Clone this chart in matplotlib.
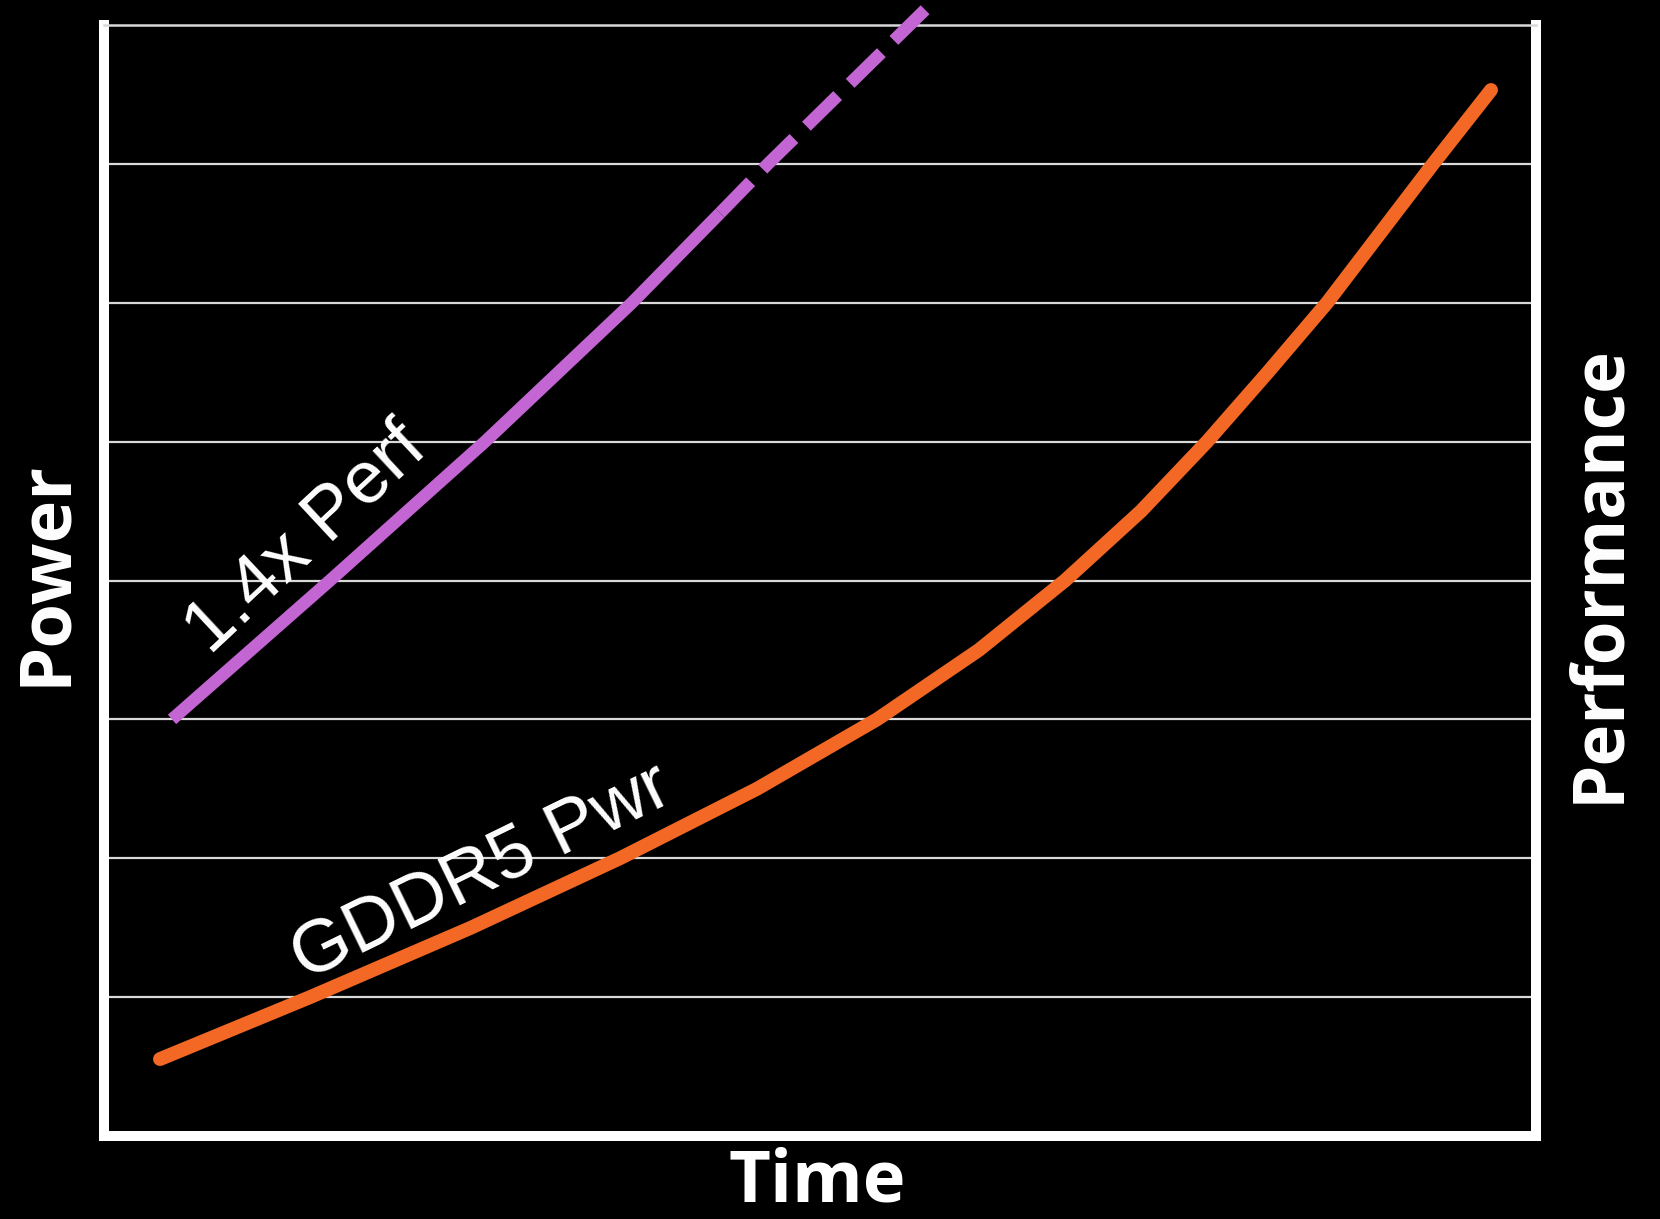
import matplotlib
matplotlib.use("Agg")
import matplotlib.pyplot as plt

# values (x: time 0-100, y: grid rows 0-8)
pwr_x = [3.91, 14.39, 25.63, 36.03, 45.60, 53.98, 61.10, 67.11, 72.42, 77.03,
         81.28, 85.41, 89.11, 92.81, 96.86]
pwr_y = [0.554, 1.0, 1.5, 2.0, 2.5, 3.0, 3.5, 4.0, 4.5, 5.0,
         5.5, 6.0, 6.5, 7.0, 7.532]

perf_x = [4.75, 15.78, 26.61, 36.87, 43.02, 46.37, 57.54]
perf_y = [3.0, 4.0, 5.0, 6.0, 6.646, 7.0, 8.13]
perf_solid_n = 5  # points drawn solid, the rest dashed (projection)

grid_rows = [1, 2, 3, 4, 5, 6, 7]

pwr_label = "GDDR5 Pwr"
perf_label = "1.4x Perf"

orange = "#F26824"
purple = "#C366D3"

fig = plt.figure(figsize=(16.6, 12.19), dpi=100, facecolor="black")
ax = fig.add_axes([104 / 1660, 1 - 1136 / 1219, 1432 / 1660, 1111 / 1219], facecolor="black")
ax.set_xlim(0, 100)
ax.set_ylim(0, 8)

for r in grid_rows:
    ax.axhline(r, color="#d9d9d9", lw=1.6, zorder=1)

ax.plot(pwr_x, pwr_y, color=orange, lw=10, solid_capstyle="round",
        solid_joinstyle="round", zorder=3)
ax.plot(perf_x[:perf_solid_n], perf_y[:perf_solid_n], color=purple, lw=9,
        solid_capstyle="butt", solid_joinstyle="round", zorder=3)
ax.plot(perf_x[perf_solid_n - 1:], perf_y[perf_solid_n - 1:], color=purple, lw=9,
        linestyle=(0, (3.5, 1.4)), dash_capstyle="butt", clip_on=False, zorder=3)

ax.text(14.1, 4.30, perf_label, rotation=43, rotation_mode="anchor",
        ha="center", va="center", color="white", fontsize=54,
        family="Liberation Sans", zorder=4)
ax.text(26.4, 1.90, pwr_label, rotation=26, rotation_mode="anchor",
        ha="center", va="center", color="white", fontsize=54,
        family="Liberation Sans", zorder=4)

ax.set_xticks([])
ax.set_yticks([])
for side in ["left", "right", "bottom"]:
    ax.spines[side].set_color("white")
    ax.spines[side].set_linewidth(7.2)
ax.spines["top"].set_color("#d9d9d9")
ax.spines["top"].set_linewidth(1.8)

fig.text(46 / 1660, 1 - 573 / 1219, "Power", rotation=90, ha="center", va="center",
         color="white", fontsize=52, fontweight="bold", family="Open Sans")
fig.text(1599 / 1660, 1 - 574 / 1219, "Performance", rotation=90, ha="center", va="center",
         color="white", fontsize=51, fontweight="bold", family="Open Sans")
fig.text(817 / 1660, 1 - 1183 / 1219, "Time", ha="center", va="center",
         color="white", fontsize=52, fontweight="bold", family="Open Sans")

fig.savefig("out.png", dpi=100, facecolor="black")
